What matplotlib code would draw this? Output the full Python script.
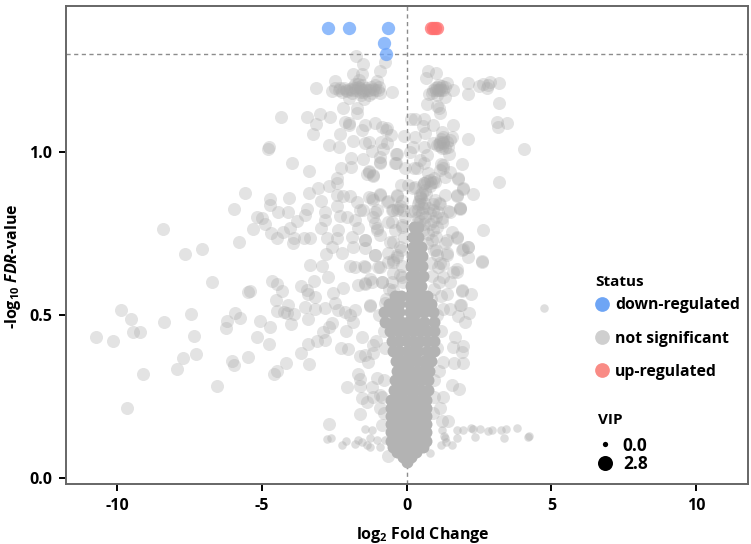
import matplotlib
matplotlib.use("Agg")
import matplotlib.pyplot as plt
from matplotlib.lines import Line2D

plt.rcParams['font.family'] = ['Open Sans', 'DejaVu Sans']
plt.rcParams['mathtext.fontset'] = 'custom'
plt.rcParams['mathtext.bf'] = 'Open Sans:bold'
plt.rcParams['mathtext.it'] = 'Open Sans:italic:bold'
plt.rcParams['mathtext.rm'] = 'Open Sans:bold'
plt.rcParams['axes.unicode_minus'] = False

down_x = [-2.72, -1.99, -0.66, -0.79, -0.71]
down_y = [1.382, 1.382, 1.382, 1.334, 1.30]
up_x = [0.85, 0.92, 0.97, 1.03]
up_y = [1.382, 1.382, 1.382, 1.382]

# not significant, larger VIP
gray_pts = [
(-1.74,1.295),(-1.51,1.271),(-.75,1.275),(-.91,1.25),(-1.87,1.239),(-1.55,1.239),(-2.48,1.218),(-3.12,1.197),(-1.04,1.218),
(-2.59,1.187),(-2.48,1.198),(-2.35,1.19),(-2.25,1.185),(-2.15,1.195),(-2.05,1.188),(-1.95,1.192),(-1.85,1.2),(-1.75,1.19),
(-1.7,1.21),(-1.6,1.195),(-1.55,1.205),(-1.5,1.185),(-1.42,1.198),(-1.35,1.19),(-1.25,1.2),(-1.15,1.192),(-1.1,1.205),(-1.0,1.19),
(-.95,1.2),(-1.65,1.22),(-1.8,1.21),(-1.9,1.18),(-1.58,1.175),(-1.3,1.175),(-1.2,1.18),
(-1.68,1.2),(-1.62,1.185),(-1.78,1.195),(-1.45,1.19),(-1.88,1.19),(-1.55,1.19),(-2.1,1.19),(-2.3,1.195),(-1.28,1.19),(-1.08,1.19),
(-.5,1.185),(-.91,1.18),(-2.01,1.165),(-1.47,1.162),(-2.21,1.135),(-1.73,1.134),(-1.73,1.119),(-4.33,1.107),(-3.45,1.107),
(-3.0,1.117),(-2.65,1.108),(-3.12,1.085),(-3.25,1.054),(-2.13,1.093),(-1.98,1.083),(-1.98,1.09),(-1.44,1.083),(-1.09,1.088),
(-.86,1.076),(-.69,1.075),(-.72,1.068),(-2.29,1.056),(-1.55,1.067),(-.55,1.052),(-2.68,1.021),(-2.35,1.017),(-1.84,1.035),
(-1.44,1.029),(-1.32,1.032),(-.89,1.032),(-.67,1.029),(-.83,1.009),(-1.19,1.004),(-4.77,1.015),(-4.79,1.008),(-3.98,.965),
(-3.36,.941),(-1.93,.981),(-1.52,.979),(-.35,.994),(-.94,.986),(-.94,.968),(-.38,.965),(-2.27,.95),(-1.92,.955),(-1.32,.943),
(-1.38,.932),(-1.17,.927),(-2.42,.919),(-2.42,.906),(-2.67,.895),(-3.05,.889),(-3.37,.873),(-5.58,.876),(-4.05,.858),(-4.73,.856),
(-4.72,.839),(-5.95,.824),(-2.95,.849),(-2.42,.868),(-2.19,.865),(-1.96,.865),(-1.73,.846),(-1.29,.861),(-.92,.871),(-.35,.866),
(-1.15,.853),(-.66,.849),(-2.42,.834),(-1.61,.822),(-.23,.835),(-4.43,.816),(-4.1,.815),(-3.43,.824),(-3.51,.807),(-2.83,.815),
(-1.09,.817),(-.35,.822),(-.52,.822),(-5.18,.8),(-5.01,.797),(-4.89,.779),(-5.3,.763),(-3.8,.789),(-2.82,.791),(-2.3,.805),
(-2.07,.802),(-1.78,.791),(-1.15,.802),(-1.09,.781),(-.63,.786),(-.17,.771),(-4.03,.766),(-2.95,.766),(-2.36,.761),(-1.67,.766),
(-1.04,.761),(-4.69,.751),(-4.26,.754),(-4.49,.738),(-3.91,.738),(-3.55,.738),(-3.34,.737),(-2.76,.735),(-2.42,.738),(-1.9,.74),
(-1.44,.73),(-.92,.745),(-.46,.725),(-3.94,.722),(-5.8,.725),(-8.42,.763),(-7.06,.703),(-7.66,.687),(-6.74,.6),
(-2.79,.687),(-2.24,.689),(-2.59,.71),(-1.87,.708),(-1.44,.705),(-1.09,.684),(-.63,.689),(-.35,.679),(-3.34,.654),(-2.94,.65),
(-1.96,.65),(-1.78,.646),(-1.49,.65),(-.98,.646),(-.46,.664),(-2.73,.618),(-3.22,.605),(-4.66,.604),(-4.47,.595),(-4.32,.574),
(-5.41,.575),(-5.47,.57),(-3.64,.59),(-3.45,.577),(-3.4,.566),(-3.17,.556),(-2.19,.582),(-2.53,.568),(-1.7,.592),(-1.44,.595),
(-1.21,.602),(-.86,.602),(-.52,.602),(-.23,.623),(-.12,.602),(-4.53,.546),(-4.09,.531),(-3.51,.526),(-3.17,.52),(-2.48,.536),
(-2.82,.522),(-1.27,.529),(-2.36,.517),(-2.13,.51),(-1.78,.517),(-4.49,.513),(-4.24,.51),(-4.12,.507),(-3.88,.502),(-3.42,.489),
(-4.01,.472),(-5.07,.482),(-4.72,.462),(-5.93,.507),(-5.76,.49),(-6.22,.482),(-6.24,.459),(-7.44,.502),(-8.39,.478),(-9.86,.516),
(-9.52,.487),(-9.46,.449),(-9.21,.449),(-10.72,.434),(-10.16,.42),(-7.35,.437),(-5.18,.434),(-4.77,.41),(-7.28,.382),(-7.74,.368),
(-7.93,.335),(-9.1,.318),(-6.57,.284),(-9.67,.216),(-6.04,.36),(-5.96,.348),(-5.47,.37),(-4.49,.329),(-4.57,.318),(-4.17,.354),
(-3.66,.385),(-3.39,.349),(-3.4,.411),(-3.09,.42),(-2.82,.423),(-2.88,.449),(-2.67,.462),(-2.59,.476),(-2.28,.398),(-2.04,.395),
(-2.1,.452),(-1.84,.48),(-1.96,.5),(-1.55,.434),(-1.61,.375),(-1.44,.377),(-1.15,.384),(-1.17,.408),(-1.33,.355),(-1.67,.318),
(-1.61,.303),(-1.61,.283),(-2.07,.28),(-1.21,.28),(-1.04,.306),(-1.15,.249),(-1.55,.247),(-1.38,.232),(-.92,.255),(-.92,.214),
(-1.61,.198),(-2.67,.166),(-.63,.069),(-.86,.163),
(.75,1.25),(1.0,1.241),(.66,1.226),(.98,1.195),(1.15,1.195),(1.32,1.2),(1.21,1.204),(1.38,1.212),(1.09,1.19),(.92,1.19),(.86,1.18),
(1.32,1.17),(1.04,1.175),(1.61,1.19),(.77,1.177),(1.05,1.2),(1.25,1.19),(1.1,1.205),(1.12,1.19),(1.2,1.19),(1.0,1.19),(2.13,1.213),(2.13,1.178),(2.5,1.202),(2.63,1.208),(2.79,1.198),(2.88,1.216),
(2.82,1.206),(3.19,1.211),(3.19,1.149),(.71,1.146),(1.04,1.141),(1.13,1.134),(1.15,1.119),(3.11,1.093),(3.48,1.088),(3.14,1.078),
(.58,1.1),(.55,1.08),(.92,1.083),(1.61,1.083),(.63,1.057),(2.13,1.041),(4.05,1.008),(.29,1.047),(.21,1.016),(1.21,1.062),
(.92,1.027),(1.04,1.021),(1.15,1.032),(1.27,1.027),(1.38,1.032),(1.5,1.037),(1.21,1.011),(1.32,1.011),(1.44,1.016),(1.55,1.047),
(1.46,.994),(.58,1.016),(.69,.991),(1.27,1.047),(1.1,1.025),(1.2,1.04),(1.15,1.02),(1.25,1.03),(1.92,.962),(3.19,.908),(.35,.95),(.58,.965),(.46,.975),(1.17,.963),(1.27,.95),
(1.5,.94),(.73,.937),(1.32,.924),(1.76,.916),(.92,.909),(.95,.92),(.58,.904),(.23,.889),(1.93,.887),(2.3,.871),(1.75,.865),(1.32,.868),
(.52,.873),(.5,.86),(.62,.885),(.8,.895),(1.13,.845),(1.84,.829),(1.84,.826),(1.44,.82),(.92,.822),(.52,.812),(.4,.84),(.55,.83),(1.21,.786),(2.63,.761),(1.55,.754),(1.73,.738),
(1.32,.72),(2.11,.708),(1.9,.7),(2.59,.666),(2.6,.663),(2.13,.71),(2.13,.679),(1.73,.64),(1.38,.689),(1.27,.658),(1.9,.575),(2.21,.566),
(1.73,.632),(1.88,.531),(2.16,.505),(2.01,.48),(1.78,.497),(1.5,.52),(1.27,.52),(1.67,.434),(1.61,.403),(1.96,.405),(1.9,.388),
(1.93,.352),(1.64,.352),(1.55,.285),(1.81,.272),(1.24,.357),(1.27,.249),(1.15,.214),(1.21,.176),(1.44,.176),
(.9,.79),(1.05,.77),(.95,.7),(1.15,.66),(1.1,.6),(1.2,.56),(1.0,.74),(.85,.66),(1.05,.5),(1.2,.45),(1.05,.4),(1.1,.33),(.95,.3),(.95,.25),(.9,.2),
(-.8,.45),(-.95,.5),(-1.05,.42),(-.75,.4),(-.8,.3),(-.85,.25),(-.8,.2),(-.7,.55),(-.6,.58),
(-.15,.65),(-.2,.7),(-.1,.74),(-.05,.8),(-.15,.85),(-.05,.95),(-.2,.9),(.05,.9),(.15,.82),(.1,1.0),(.25,.95),(.3,1.1),(.15,1.1),(-.08,1.05),
(-.92,.97),(-.37,.994),(-.4,.965),(-1.32,.94),(-1.15,.93),(-.92,.868),(-1.21,.858),(-.35,.868),(-.69,.848),(-1.04,.822),(-.46,.822),
(-.29,.827),(-.115,.822),(-1.5,.822),(-.17,.776),(-1.04,.766),(-.52,.786),(-.4,.761),(-1.44,.73),(-.58,.725),(-.23,.71),(-1.09,.684),
(-.46,.669),(-.92,.648),(-1.44,.648),(-.35,.684),(-.63,.664),(-1.27,.612),(-.46,.628),(-.86,.602),(-1.44,.597),(-.17,.618),(-.46,.577),
(-.35,.556),(-.75,.536),(-1.27,.531),
(1.15,.945),(1.27,.96),(1.78,.919),(1.96,.889),(1.84,.827),(1.73,.868),(1.5,.817),(1.15,.842),(1.21,.797),(1.38,.73),(1.73,.74),(1.96,.704),
(1.04,.684),(1.38,.684),(1.09,.648),(1.61,.633),(1.27,.618),(1.5,.602),(1.9,.577),(1.38,.566),(1.84,.531),
(.46,.863),(.58,.904),(.81,.914),(.98,.909),(.29,.894),(.4,.822),(.63,.802),(.35,.781),(.81,.812),(.58,.843),(.98,.853),(1.09,.817),(.92,.761),(.86,.73),
(.46,.868),(.55,.9),(.7,.91),(.85,.905),(.42,.85),(.5,.84),(.38,.8),(.45,.79),(.6,.78),(.72,.83),(.68,.87),(.3,.82),(.33,.76),(.55,.76),
(.75,.75),(.7,.72),(.82,.78),(.9,.84),(1.0,.8),(1.0,.7),(.88,.62),(.95,.58),(.85,.55),
]
gray_x = [p[0] for p in gray_pts]
gray_y = [p[1] for p in gray_pts]

# not significant, small VIP
small_pts = [
(-1.44,.15),(-1.21,.149),(-2.76,.12),(-2.63,.122),(-2.11,.113),(-2.25,.101),(-1.78,.104),(-1.67,.117),(-1.55,.111),(-1.38,.101),
(-1.27,.122),(-1.27,.094),(-1.04,.117),(-.94,.096),(-.75,.117),(4.74,.523),(1.73,.149),(1.93,.147),(2.22,.154),(2.28,.15),(2.53,.151),
(2.8,.145),(2.94,.147),(3.26,.147),(3.43,.152),(3.81,.154),(4.2,.127),(4.22,.13),(3.37,.124),(2.36,.125),(1.73,.124),(1.32,.124),
(1.21,.147),(1.17,.101),(1.55,.101),(1.36,.111),(.81,.076),(1.3,.128),
]
small_x = [p[0] for p in small_pts]
small_y = [p[1] for p in small_pts]

# overplotted core of the non-significant cloud, read row by row
core_rows = [
(.05,[0]),(.065,[-.14,.14]),(.08,[-.32,0,.32]),(.095,[-.48,-.2,.05,.3,.55]),
(.115,[-.55,-.3,-.1,.1,.3,.5,.68]),(.14,[-.54,-.3,-.1,.1,.3,.5,.66]),(.165,[-.54,-.3,-.1,.1,.3,.5,.66]),
(.19,[-.54,-.3,-.1,.1,.3,.5,.66]),(.215,[-.54,-.3,-.1,.1,.3,.5,.66]),(.24,[-.54,-.3,-.1,.1,.3,.5,.66]),
(.27,[-.45,-.25,-.1,.1,.3,.5,.72]),(.30,[-.4,-.25,-.1,.1,.3,.5,.74]),(.33,[-.32,-.15,0,.15,.35,.55,.76]),
(.36,[-.38,-.15,0,.15,.35,.6,.85]),(.39,[-.48,-.25,0,.2,.4,.7,.95]),(.42,[-.52,-.25,0,.2,.45,.7,.93]),
(.45,[-.58,-.3,-.05,.2,.45,.7,.93]),(.48,[-.75,-.45,-.2,.05,.3,.6,.93]),(.51,[-.8,-.5,-.25,.1,.35,.6,.9]),
(.535,[-.6,-.4,-.25,.12,.35,.6,.85]),(.56,[-.4,-.2,.12,.35,.55,.7]),(.59,[.14,.33,.5]),(.62,[.14,.33,.55]),
(.65,[.16,.33,.52]),(.68,[.18,.35,.52]),(.71,[.2,.35,.5]),(.74,[.22,.38]),(.77,[.25,.38]),
]

status_labels = ['down-regulated', 'not significant', 'up-regulated']
vip_labels = ['0.0', '2.8']
x_ticks = [-10, -5, 0, 5, 10]
y_ticks = [0.0, 0.5, 1.0]

core_x = [x for y, xs in core_rows for x in xs]
core_y = [y for y, xs in core_rows for x in xs]

fig = plt.figure(figsize=(7.51, 5.44), dpi=100)
ax = fig.add_axes([66/751, 1-484/544, (748-66)/751, (484-6)/544])
ax.set_xlim(-11.77, 11.79)
ax.set_ylim(-0.018, 1.448)

ax.axvline(0, color='#8c8c8c', ls=(0, (3, 2.5)), lw=1.0, zorder=1)
ax.axhline(1.3, color='#8c8c8c', ls=(0, (3, 2.5)), lw=1.0, zorder=1)

ax.scatter(gray_x, gray_y, s=88, color='#aaaaaa', alpha=0.33, linewidths=0, zorder=2)
ax.scatter(small_x, small_y, s=38, color='#aaaaaa', alpha=0.38, linewidths=0, zorder=2)
ax.scatter(core_x, core_y, s=74, color='#b3b3b3', alpha=1, linewidths=0, zorder=3)
ax.scatter(down_x, down_y, s=92, color='#6ba4fa', alpha=0.75, linewidths=0, zorder=4)
ax.scatter(up_x, up_y, s=92, color='#ff6f6f', alpha=0.75, linewidths=0, zorder=4)

for s in ax.spines.values():
    s.set_color('#666666')
    s.set_linewidth(1.4)
ax.set_xticks(x_ticks)
ax.set_yticks(y_ticks)
ax.set_yticklabels(['%.1f' % v for v in y_ticks])
ax.tick_params(length=5, width=1.4, color='black', labelsize=11.5, pad=5)
for t in ax.get_xticklabels() + ax.get_yticklabels():
    t.set_fontweight('bold')
ax.set_xlabel(r'log$_{\mathbf{2}}$ Fold Change', fontsize=11.5, fontweight='bold')
ax.xaxis.set_label_coords(0.523, -0.085)
ax.set_ylabel(r'-log$_{\mathbf{10}}$ $\mathit{FDR}$-value', fontsize=11.5, fontweight='bold')
ax.yaxis.set_label_coords(-0.063, 0.455)

def mk(c, size):
    return Line2D([], [], marker='o', ls='', color=c, markersize=size, markeredgewidth=0)

leg1 = ax.legend([mk('#6ea5f5', 10.6), mk('#cfcfcf', 10.6), mk('#f98b85', 10.6)], status_labels, title='Status',
                 loc='upper left', bbox_to_anchor=(0.776, 0.437), frameon=False, alignment='left',
                 prop={'size': 11.3, 'weight': 'bold'}, title_fontproperties={'size': 11, 'weight': 'bold'},
                 labelspacing=1.1, handletextpad=0.38, borderpad=0, borderaxespad=0, handlelength=0.9)
leg1._legend_box.sep = 6
ax.add_artist(leg1)
leg2 = ax.legend([mk('black', 3.8), mk('black', 10.8)], vip_labels, title='VIP',
                 loc='upper left', bbox_to_anchor=(0.78, 0.149), frameon=False, alignment='left',
                 prop={'size': 12.5, 'weight': 'bold'}, title_fontproperties={'size': 11, 'weight': 'bold'},
                 labelspacing=0.05, handletextpad=0.63, borderpad=0, borderaxespad=0, handlelength=0.8)
leg2._legend_box.sep = 7

fig.savefig('out.png', dpi=100)
